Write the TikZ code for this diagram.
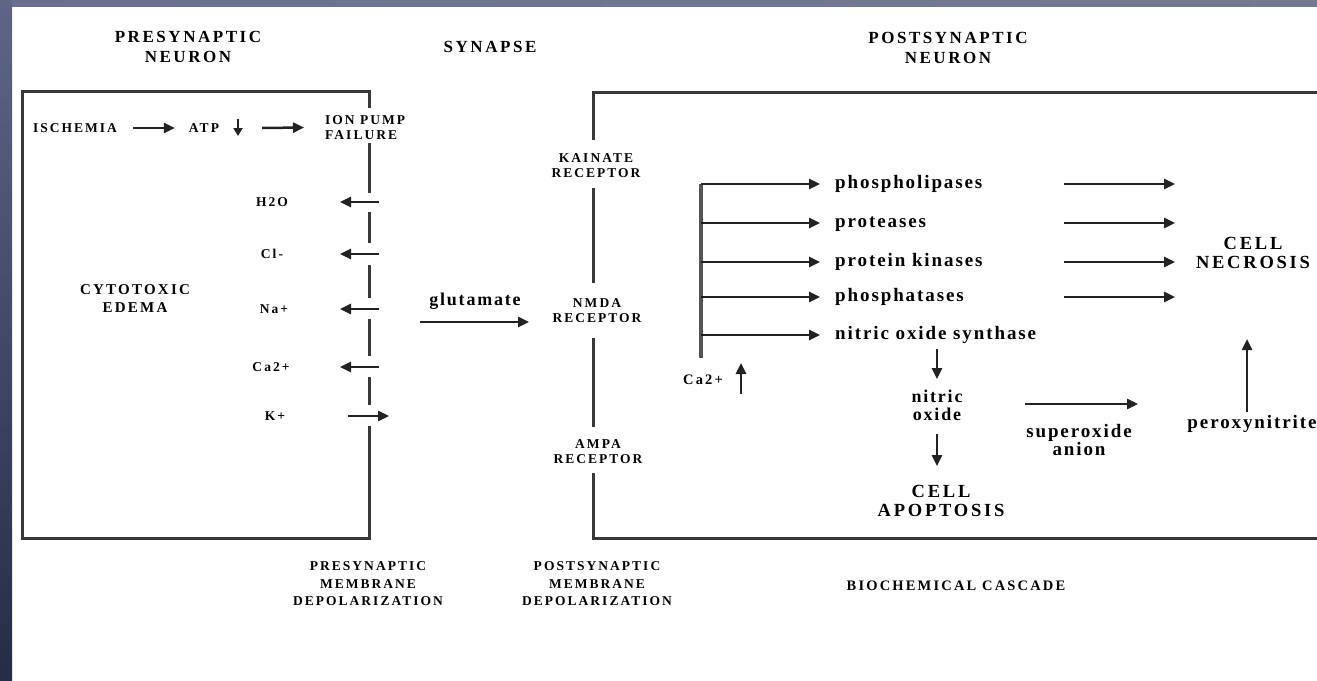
\documentclass[tikz,border=0pt]{standalone}
\usepackage{fontspec}
\setmainfont{Liberation Serif}
\newfontfamily\fcap[LetterSpace=15]{Liberation Serif}
\newfontfamily\flow[LetterSpace=10]{Liberation Serif}
\usetikzlibrary{arrows.meta}
\definecolor{boxgray}{HTML}{383838}
\definecolor{arrgray}{HTML}{222222}
\definecolor{bargray}{HTML}{555555}
\definecolor{topL}{HTML}{6A7090}
\definecolor{topR}{HTML}{767A90}
\definecolor{sideT}{HTML}{5F6587}
\definecolor{sideB}{HTML}{262B46}
\begin{document}
\begin{tikzpicture}[x=1pt,y=-1pt,
  box/.style={line width=3pt, draw=boxgray},
  arr/.style={-{Triangle[length=11pt,width=10pt]}, line width=2.5pt, draw=arrgray},
  sarr/.style={-{Triangle[length=8pt,width=9pt]}, line width=2.2pt, draw=arrgray},
  title/.style={font=\fcap\bfseries\fontsize{17}{20}\selectfont, inner sep=0pt, align=center},
  lab/.style={font=\fcap\bfseries\fontsize{13.5}{15}\selectfont, inner sep=0pt, align=center},
  blab/.style={font=\fcap\bfseries\fontsize{13.5}{17.5}\selectfont, inner sep=0pt, align=center},
  big/.style={font=\fcap\bfseries\fontsize{18.5}{19}\selectfont, inner sep=0pt, align=center},
  low/.style={font=\flow\bfseries\fontsize{19}{18}\selectfont, inner sep=0pt, align=center},
]
\useasboundingbox (0,0) rectangle (1317,680);
\fill[white] (0,0) rectangle (1317,680);
\shade[left color=topL, right color=topR] (0,0) rectangle (1317,6);
\shade[top color=sideT, bottom color=sideB] (0,0) rectangle (12,680);

% ---------- titles ----------
\node[title] (pretitle) at (188,47) {PRESYNAPTIC\\NEURON};
\node[title] (syntitle) at (490,47) {SYNAPSE};
\node[title] (posttitle) at (948,48) {POSTSYNAPTIC\\NEURON};

% ---------- presynaptic box ----------
\draw[box] (369,108) -- (369,91) -- (22,91) -- (22,538) -- (369,538) -- (369,426);
\foreach \a/\b in {143/193,212/243,265/298,319/356,377/405}
  \draw[box] (369,\a) -- (369,\b);

\node[lab] (isch) at (75,128) {ISCHEMIA};
\node[lab] (atp) at (204,128) {ATP};
\node[lab, align=left, anchor=west] (ion) at (325,127.5) {ION PUMP\\FAILURE};
\draw[arr] ([xshift=16pt]isch.east) -- ([xshift=-14pt]atp.west);
\draw[arr] ([xshift=43pt]atp.east) -- ([xshift=-21pt]ion.west);
\coordinate (atpdA) at (238,119);
\coordinate (atpdB) at (238,136);
\draw[sarr] (atpdA) -- (atpdB);

\node[lab] (h2o) at (272,202) {H2O};
\node[lab] (cl) at (272,254) {Cl-};
\node[lab] (na) at (274,309) {Na+};
\node[lab] (ca) at (271,367) {Ca2+};
\node[lab] (kp) at (275,416) {K+};
\foreach \n/\y in {h2o/202,cl/254,na/309,ca/367}{
  \coordinate (\n A) at (379,\y);
  \coordinate (\n B) at (340,\y);
  \draw[arr] (\n A) -- (\n B);
}
\coordinate (kA) at (348,416);
\coordinate (kB) at (389,416);
\draw[arr] (kA) -- (kB);

\node[lab, font=\fcap\bfseries\fontsize{15}{18}\selectfont] (cyto) at (135,299) {CYTOTOXIC\\EDEMA};

% ---------- synapse ----------
\node[low, font=\flow\bfseries\fontsize{18}{18}\selectfont] (glut) at (475,301) {glutamate};
\coordinate (glA) at (420,322);
\coordinate (glB) at (529,322);
\draw[arr] (glA) -- (glB);

% ---------- postsynaptic box ----------
\draw[box] (593,140) -- (593,92) -- (1322,92);
\draw[box] (593,188) -- (593,283);
\draw[box] (593,338) -- (593,427);
\draw[box] (593,473) -- (593,538) -- (1322,538);
\node[lab] (kain) at (596,165.5) {KAINATE\\RECEPTOR};
\node[lab] (nmda) at (597,310.5) {NMDA\\RECEPTOR};
\node[lab] (ampa) at (598,452) {AMPA\\RECEPTOR};

% ---------- cascade ----------
\coordinate (barT) at (701,184);
\coordinate (barB) at (701,358);
\draw[line width=3.5pt, draw=bargray] (barT) -- (barB);
\foreach \n/\y/\t in {e1/184/phospholipases,e2/223/proteases,e3/262/protein kinases,e4/297/phosphatases,e5/335/nitric oxide synthase}{
  \node[low, anchor=base west] (\n) at (835,\y+4.5) {\t};
  \coordinate (\n s) at (701,\y);
  \coordinate (\n e) at (820,\y);
  \draw[arr] (\n s) -- (\n e);
}
\foreach \n/\y in {e1/184,e2/223,e3/262,e4/297}{
  \coordinate (\n R) at (1064,\y);
  \coordinate (\n T) at (1175,\y);
  \draw[arr] (\n R) -- (\n T);
}
\node[big] (necro) at (1253,253) {CELL\\NECROSIS};

\node[lab, font=\fcap\bfseries\fontsize{14.5}{15}\selectfont] (ca2) at (703,380) {Ca2+};
\coordinate (caA) at (741,394);
\coordinate (caB) at (741,363);
\draw[arr] (caA) -- (caB);

\node[low, font=\flow\bfseries\fontsize{18}{18}\selectfont] (no) at (937,405) {nitric\\oxide};
\coordinate (nosD) at (937,349);
\coordinate (noT) at (937,379);
\draw[arr] (nosD) -- (noT);
\node[big] (apop) at (941,501) {CELL\\APOPTOSIS};
\coordinate (noD) at (937,434);
\coordinate (apT) at (937,466);
\draw[arr] (noD) -- (apT);

\node[low] (super) at (1079,440) {superoxide\\anion};
\coordinate (suA) at (1025,404);
\coordinate (suB) at (1138,404);
\draw[arr] (suA) -- (suB);
\node[low] (perox) at (1252,424) {peroxynitrite};
\coordinate (peA) at (1247,412);
\coordinate (peB) at (1247,339);
\draw[arr] (peA) -- (peB);

% ---------- bottom labels ----------
\node[blab] (bpre) at (368,584) {PRESYNAPTIC\\MEMBRANE\\DEPOLARIZATION};
\node[blab] (bpost) at (597,584) {POSTSYNAPTIC\\MEMBRANE\\DEPOLARIZATION};
\node[lab, font=\fcap\bfseries\fontsize{14.5}{15}\selectfont] (bio) at (956,586) {BIOCHEMICAL CASCADE};
\end{tikzpicture}
\end{document}
